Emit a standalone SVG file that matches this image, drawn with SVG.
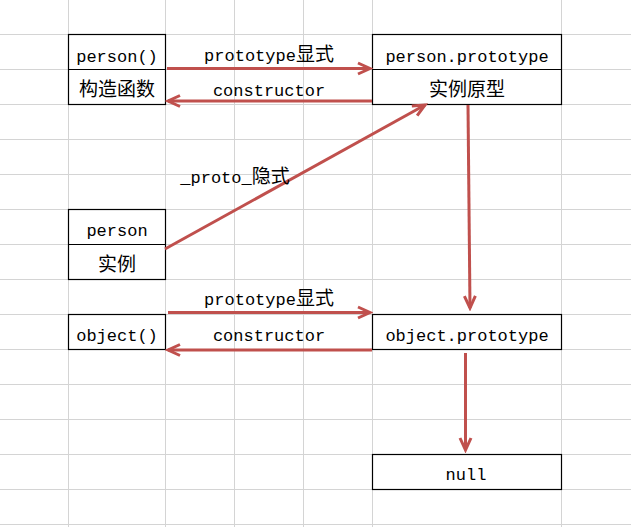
<svg xmlns="http://www.w3.org/2000/svg" width="631" height="527" viewBox="0 0 631 527">
<style>
.grid line{stroke:#d4d4d4;stroke-width:1}
.box{fill:#fff;stroke:#000;stroke-width:1.2}
.div{stroke:#000;stroke-width:1.2}
text{fill:#000;text-anchor:middle}
.lat{font-family:"Liberation Mono","DejaVu Sans Mono",monospace;font-size:17px}
.cjk{font-family:"Noto Sans CJK SC","Noto Sans CJK JP",sans-serif;font-size:19px}
.arr{stroke:#c0504d;stroke-width:3;fill:none;marker-end:url(#ah)}
</style>
<defs>
<marker id="ah" markerUnits="userSpaceOnUse" markerWidth="18" markerHeight="16" viewBox="0 0 18 16" refX="15" refY="8" orient="auto">
<path d="M3,2.5 L15,8 L3,13.5" fill="none" stroke="#c0504d" stroke-width="3" stroke-linejoin="miter"/>
</marker>
</defs>
<rect width="631" height="527" fill="#fff"/>
<g class="grid">
<line x1="68.5" y1="0" x2="68.5" y2="527"/>
<line x1="165.5" y1="0" x2="165.5" y2="527"/>
<line x1="234.5" y1="0" x2="234.5" y2="527"/>
<line x1="303.5" y1="0" x2="303.5" y2="527"/>
<line x1="372.5" y1="0" x2="372.5" y2="527"/>
<line x1="561.5" y1="0" x2="561.5" y2="527"/>
<line x1="0" y1="34.5" x2="631" y2="34.5"/>
<line x1="0" y1="69.5" x2="631" y2="69.5"/>
<line x1="0" y1="104.5" x2="631" y2="104.5"/>
<line x1="0" y1="139.5" x2="631" y2="139.5"/>
<line x1="0" y1="174.5" x2="631" y2="174.5"/>
<line x1="0" y1="209.5" x2="631" y2="209.5"/>
<line x1="0" y1="244.5" x2="631" y2="244.5"/>
<line x1="0" y1="279.5" x2="631" y2="279.5"/>
<line x1="0" y1="314.5" x2="631" y2="314.5"/>
<line x1="0" y1="349.5" x2="631" y2="349.5"/>
<line x1="0" y1="384.5" x2="631" y2="384.5"/>
<line x1="0" y1="419.5" x2="631" y2="419.5"/>
<line x1="0" y1="454.5" x2="631" y2="454.5"/>
<line x1="0" y1="489.5" x2="631" y2="489.5"/>
<line x1="0" y1="524.5" x2="631" y2="524.5"/>
</g>
<g id="node-person-fn">
<rect class="box" x="68.5" y="34.5" width="97" height="70"/>
<line class="div" x1="68.5" y1="69.5" x2="165.5" y2="69.5"/>
<text class="lat" x="117" y="62">person()</text>
<text class="cjk" x="117" y="95.5">构造函数</text>
</g>
<g id="node-person-prototype">
<rect class="box" x="372.5" y="34.5" width="189" height="70"/>
<line class="div" x1="372.5" y1="69.5" x2="561.5" y2="69.5"/>
<text class="lat" x="467" y="62">person.prototype</text>
<text class="cjk" x="467" y="95.5">实例原型</text>
</g>
<g id="node-person-instance">
<rect class="box" x="68.5" y="209.5" width="97" height="70"/>
<line class="div" x1="68.5" y1="244.5" x2="165.5" y2="244.5"/>
<text class="lat" x="117" y="236">person</text>
<text class="cjk" x="117" y="270.5">实例</text>
</g>
<g id="node-object-fn">
<rect class="box" x="68.5" y="314.5" width="97" height="35"/>
<text class="lat" x="117" y="341">object()</text>
</g>
<g id="node-object-prototype">
<rect class="box" x="372.5" y="314.5" width="189" height="35"/>
<text class="lat" x="467" y="341">object.prototype</text>
</g>
<g id="node-null">
<rect class="box" x="372.5" y="454.5" width="189" height="35"/>
<text class="lat" x="466" y="480">null</text>
</g>
<g id="connectors">
<line class="arr" x1="167" y1="68.5" x2="370" y2="68.5"/>
<line class="arr" x1="372" y1="101" x2="168" y2="101"/>
<line class="arr" x1="165" y1="249" x2="425" y2="105"/>
<line class="arr" x1="468" y1="105" x2="470" y2="308"/>
<line class="arr" x1="168" y1="312.5" x2="370" y2="312.5"/>
<line class="arr" x1="372" y1="350" x2="168" y2="350"/>
<line class="arr" x1="465.5" y1="353" x2="465.5" y2="450"/>
</g>
<g id="labels">
<text x="269" y="61"><tspan class="lat">prototype</tspan><tspan class="cjk">显式</tspan></text>
<text class="lat" x="269" y="96">constructor</text>
<text x="235" y="183"><tspan class="lat">_proto_</tspan><tspan class="cjk">隐式</tspan></text>
<text x="269" y="305"><tspan class="lat">prototype</tspan><tspan class="cjk">显式</tspan></text>
<text class="lat" x="269" y="341">constructor</text>
</g>
</svg>
